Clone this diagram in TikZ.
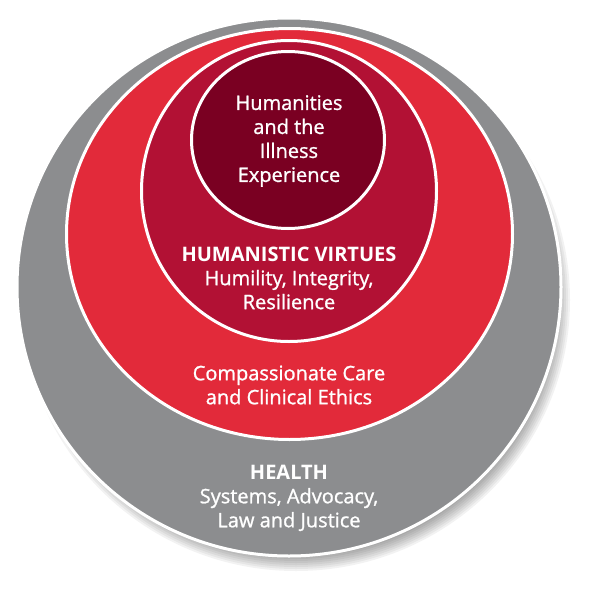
\documentclass[tikz,border=0pt]{standalone}
\usepackage{fontspec}
\setmainfont{Open Sans}[UprightFeatures={FakeBold=1.1}]
\usetikzlibrary{shapes.geometric,positioning}

\definecolor{HealthGray}{RGB}{140,141,143}
\definecolor{CareRed}{RGB}{226,42,58}
\definecolor{VirtueRed}{RGB}{178,17,52}
\definecolor{IllnessRed}{RGB}{122,0,34}

\begin{document}
\begin{tikzpicture}[x=1pt,y=-1pt,
		ring/.style={ellipse, draw=white, line width=3pt, inner sep=0pt, outer sep=0pt},
		ringtext/.style={text=white, align=center, inner sep=0pt, font=\fontsize{20}{24}\selectfont}
		]
		\useasboundingbox (0,0) rectangle (600,597);
		
		% Shadow
		\foreach \d in {0,2,...,18}
			\fill[black, opacity=0.05] (296,300) ellipse ({256+\d} and {253+\d});
		
		% Rings
		\node[ring, fill=HealthGray, minimum width=544pt, minimum height=538pt] (Health) at (289,287) {};
		\node[ring, fill=CareRed, minimum width=446pt, minimum height=411pt] (Care) at (289.5,234) {};
		\node[ring, fill=VirtueRed, minimum width=295pt, minimum height=301pt] (Virtue) at (289,191) {};
		\node[ring, fill=IllnessRed, minimum width=193pt, minimum height=177pt] (Illness) at (288,140) {};
		
		% Labels
		\node[ringtext] (IllnessText) at (289,141) {Humanities\\and the\\Illness\\Experience};
		\node[ringtext] (VirtueText) at (289,278) {\textbf{HUMANISTIC VIRTUES}\\Humility, Integrity,\\Resilience};
		\node[ringtext] (CareText) at (289,385) {Compassionate Care\\and Clinical Ethics};
		\node[ringtext] (HealthText) at (289,498) {\textbf{HEALTH}\\Systems, Advocacy,\\Law and Justice};
	\end{tikzpicture}
\end{document}
